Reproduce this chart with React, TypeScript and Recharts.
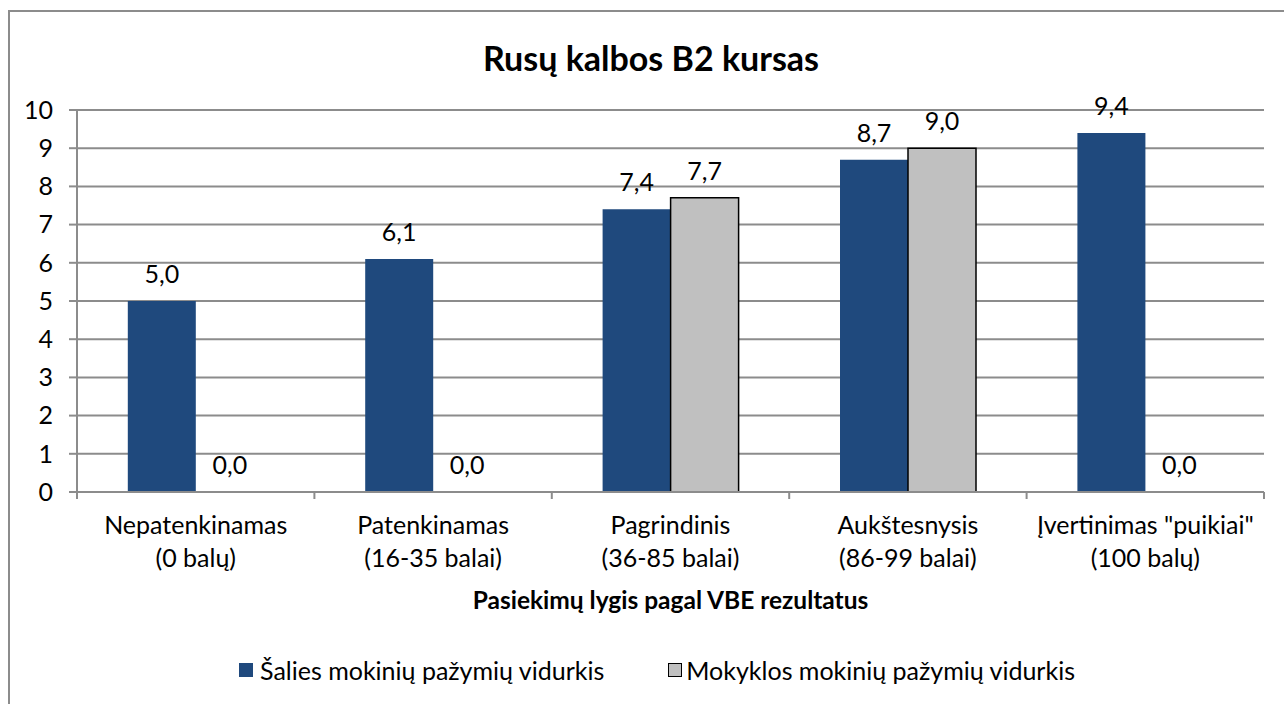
import { BarChart, Bar, XAxis, YAxis, CartesianGrid, Legend, LabelList, Cell } from "recharts";

const FONT = "Lato, 'DejaVu Sans', sans-serif";
const GRID = "#8c8c8c";

const categories = [
  "Nepatenkinamas\n(0 balų)",
  "Patenkinamas\n(16-35 balai)",
  "Pagrindinis\n(36-85 balai)",
  "Aukštesnysis\n(86-99 balai)",
  'Įvertinimas "puikiai"\n(100 balų)',
];
const saliesVidurkis = [5.0, 6.1, 7.4, 8.7, 9.4];
const mokyklosVidurkis = [0.0, 0.0, 7.7, 9.0, 0.0];
const yTicks = [0, 1, 2, 3, 4, 5, 6, 7, 8, 9, 10];
const seriesOrder = ["salies", "mokyklos"];

const data = categories.map((name, i) => ({
  name,
  salies: saliesVidurkis[i],
  mokyklos: mokyklosVidurkis[i],
}));

const fmt = (v: any) => Number(v).toFixed(1).replace(".", ",");
// zero-value bars still need a (tiny) rectangle so their "0,0" label gets drawn
const tinyIfZero = (v: any) => (Number(v) === 0 ? 0.01 : 0);

const CategoryTick = (props: any) => {
  const { x, y, payload, width, visibleTicksCount, index } = props;
  const band = width / visibleTicksCount;
  const lines = String(payload.value).split("\n");
  const isLast = index === visibleTicksCount - 1;
  return (
    <g transform={`translate(${x},${y})`}>
      <line x1={-band / 2} x2={-band / 2} y1={0} y2={7} stroke={GRID} strokeWidth={2} />
      {isLast && <line x1={band / 2} x2={band / 2} y1={0} y2={7} stroke={GRID} strokeWidth={2} />}
      <text textAnchor="middle" fill="#000" fontSize={25} fontFamily={FONT}>
        {lines.map((l, i) => (
          <tspan key={i} x={0} dy={i === 0 ? 42 : 33}>
            {l}
          </tspan>
        ))}
      </text>
    </g>
  );
};

const LegendContent = (props: any) => {
  const items = [...(props.payload || [])].sort(
    (a: any, b: any) => seriesOrder.indexOf(a.dataKey) - seriesOrder.indexOf(b.dataKey)
  );
  return (
    <div style={{ display: "flex", justifyContent: "center", gap: 64, fontFamily: FONT, fontSize: 25, color: "#000" }}>
      {items.map((p: any) => (
        <div key={p.value} style={{ display: "flex", alignItems: "center" }}>
          <span
            style={{
              display: "inline-block",
              width: 14,
              height: 14,
              background: p.color,
              border: p.dataKey === "mokyklos" ? "1.5px solid #000" : "none",
              boxSizing: "border-box",
              marginRight: p.dataKey === "mokyklos" ? 4 : 7,
            }}
          />
          <span>{p.value}</span>
        </div>
      ))}
    </div>
  );
};

export default function App() {
  return (
    <div style={{ position: "absolute", left: 0, top: 0, width: 1284, height: 704, overflow: "hidden", background: "#fff" }}>
      <div
        style={{
          position: "absolute",
          left: 8,
          top: 10,
          width: 1290,
          height: 720,
          border: "2px solid #8c8c8c",
          boxSizing: "border-box",
        }}
      />
      <div
        style={{
          position: "absolute",
          left: 0,
          width: 1302,
          top: 37,
          textAlign: "center",
          fontFamily: FONT,
          fontWeight: 700,
          fontSize: 34,
          lineHeight: "42px",
          color: "#000",
        }}
      >
        Rusų kalbos B2 kursas
      </div>
      <div style={{ position: "absolute", left: 0, top: 0 }}>
        <BarChart
          width={1284}
          height={704}
          data={data}
          margin={{ top: 110, right: 20, left: 0, bottom: 62 }}
          barCategoryGap="21.4%"
          barGap={0}
        >
          <CartesianGrid vertical={false} stroke={GRID} strokeWidth={2} />
          <XAxis
            dataKey="name"
            height={120}
            axisLine={{ stroke: GRID, strokeWidth: 2 }}
            tickLine={false}
            tickSize={0}
            tickMargin={0}
            tick={<CategoryTick />}
            interval={0}
            label={{
              value: "Pasiekimų lygis pagal VBE rezultatus",
              position: "insideBottom",
              offset: 3,
              style: { fontFamily: FONT, fontWeight: 700, fontSize: 24.5, fill: "#000" },
            }}
          />
          <YAxis
            width={77}
            domain={[0, 10]}
            ticks={yTicks}
            interval={0}
            axisLine={{ stroke: GRID, strokeWidth: 2 }}
            tickLine={{ stroke: GRID, strokeWidth: 2 }}
            tickSize={8}
            tickMargin={16}
            tick={{ fill: "#000", fontSize: 25, fontFamily: FONT }}
          />
          <Legend
            content={<LegendContent />}
            wrapperStyle={{ position: "absolute", top: 655, left: 15, width: 1284 }}
          />
          <Bar
            dataKey="salies"
            name="Šalies mokinių pažymių vidurkis"
            fill="#1F497D"
            minPointSize={tinyIfZero}
            isAnimationActive={false}
          >
            <LabelList dataKey="salies" position="top" offset={18} formatter={fmt} style={{ fill: "#000", fontSize: 25, fontFamily: FONT }} />
          </Bar>
          <Bar
            dataKey="mokyklos"
            name="Mokyklos mokinių pažymių vidurkis"
            fill="#C0C0C0"
            stroke="#000"
            strokeWidth={1.5}
            minPointSize={tinyIfZero}
            isAnimationActive={false}
          >
            {mokyklosVidurkis.map((v, i) => (
              <Cell key={i} stroke={v === 0 ? "none" : "#000"} fill={v === 0 ? "none" : "#C0C0C0"} />
            ))}
            <LabelList dataKey="mokyklos" position="top" offset={18} formatter={fmt} style={{ fill: "#000", fontSize: 25, fontFamily: FONT }} />
          </Bar>
        </BarChart>
      </div>
    </div>
  );
}
